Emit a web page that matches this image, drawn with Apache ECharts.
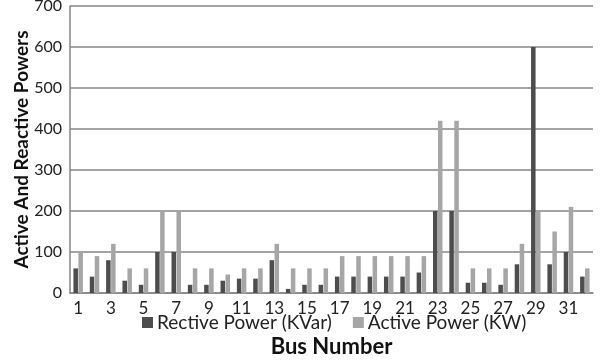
<!DOCTYPE html>
<html>
<head>
<meta charset="utf-8">
<script src="https://cdn.jsdelivr.net/npm/echarts@6/dist/echarts.min.js"></script>
<style>
  html, body { margin: 0; padding: 0; background: #fff; }
  #chart { width: 605px; height: 361px; }
</style>
</head>
<body>
<div id="chart"></div>
<script>
// Bus load data (bus numbers 1..32)
const buses = Array.from({ length: 32 }, (_, i) => String(i + 1));
const reactivePower = [60, 40, 80, 30, 20, 100, 100, 20, 20, 30, 35, 35, 80, 10, 20, 20,
                       40, 40, 40, 40, 40, 50, 200, 200, 25, 25, 20, 70, 600, 70, 100, 40];
const activePower = [100, 90, 120, 60, 60, 200, 200, 60, 60, 45, 60, 60, 120, 60, 60, 60,
                     90, 90, 90, 90, 90, 90, 420, 420, 60, 60, 60, 120, 200, 150, 210, 60];
const seriesNames = ['Rective Power (KVar)', 'Active Power (KW)'];

const font = 'Lato, Open Sans, sans-serif';
const chart = echarts.init(document.getElementById('chart'));
chart.setOption({
  animation: false,
  grid: { left: 70, right: 12, top: 6, bottom: 68, containLabel: false, outerBoundsMode: 'none' },
  legend: {
    data: seriesNames,
    top: 313,
    left: 142,
    padding: 0,
    itemWidth: 11,
    itemHeight: 11,
    itemGap: 21,
    icon: 'rect',
    textStyle: { fontFamily: font, fontSize: 19, color: '#222', padding: [0, 0, 0, -1] }
  },
  xAxis: {
    type: 'category',
    data: buses,
    name: 'Bus Number',
    nameLocation: 'middle',
    nameGap: 43,
    nameMoveOverlap: false,
    nameTextStyle: { fontFamily: font, fontSize: 22, fontWeight: 'bold', color: '#111' },
    axisLine: { lineStyle: { color: '#868686', width: 1.5 } },
    axisTick: { show: false },
    axisLabel: { interval: 1, fontFamily: font, fontSize: 17, color: '#222', margin: 7 }
  },
  yAxis: {
    type: 'value',
    min: 0, max: 700, interval: 100,
    name: 'Active And Reactive Powers',
    nameLocation: 'middle',
    nameGap: 39,
    nameMoveOverlap: false,
    nameTextStyle: { fontFamily: font, fontSize: 19, fontWeight: 'bold', color: '#111' },
    axisLine: { show: true, lineStyle: { color: '#868686', width: 1.5 } },
    axisTick: { show: false },
    axisLabel: { fontFamily: font, fontSize: 16, color: '#222', margin: 8 },
    splitLine: { lineStyle: { color: '#868686', width: 1.5 } }
  },
  series: [
    { name: seriesNames[0], type: 'bar', data: reactivePower, itemStyle: { color: '#4d4d4d' },
      barGap: '10%', barCategoryGap: '42%' },
    { name: seriesNames[1], type: 'bar', data: activePower, itemStyle: { color: '#a6a6a6' } }
  ]
});
</script>
</body>
</html>
